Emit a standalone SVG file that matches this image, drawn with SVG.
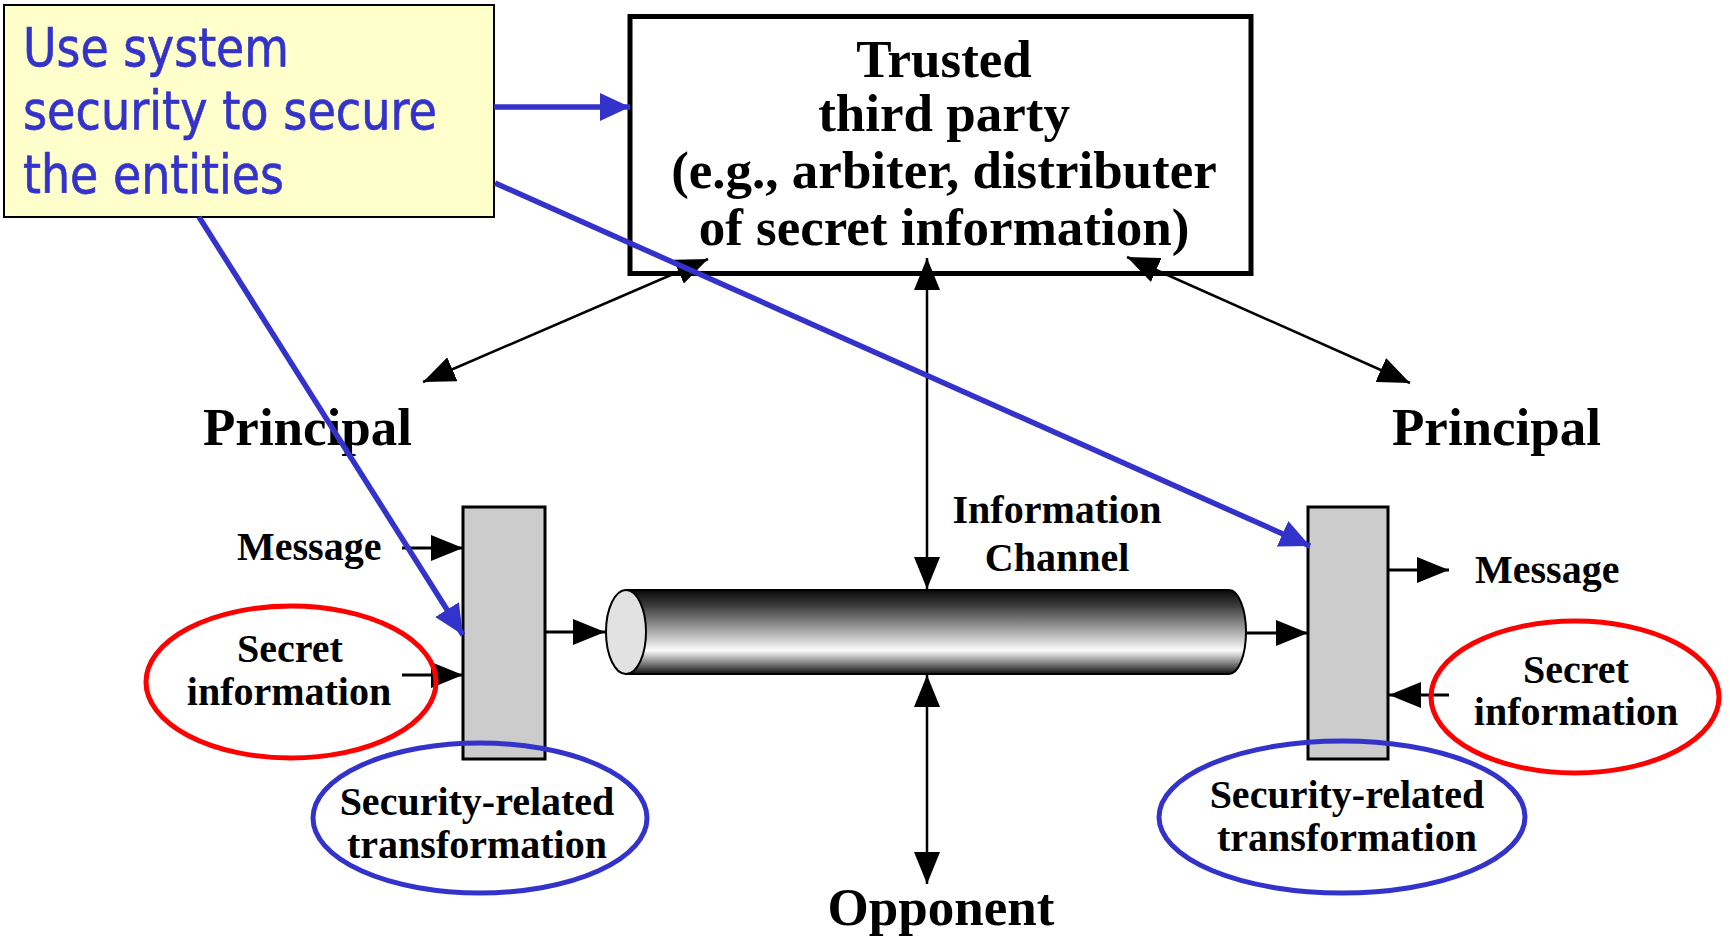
<svg xmlns="http://www.w3.org/2000/svg" width="1730" height="944" viewBox="0 0 1730 944">
  <style>
    .lbl { font-family: "Liberation Serif", "Times New Roman", serif; font-weight: bold; fill: #000; }
    .big { font-size: 53px; }
    .small { font-size: 40px; }
    .note { font-family: "DejaVu Sans", Verdana, sans-serif; font-size: 53px; fill: #3333cc; stroke: #3333cc; stroke-width: 0.7; }
    .wire { stroke: #000; stroke-width: 3; fill: none; }
    .wire-thin { stroke: #000; stroke-width: 2.5; fill: none; }
    .link { stroke: #3333cc; stroke-width: 5.5; fill: none; }
    .tbox { fill: #cccccc; stroke: #000; stroke-width: 3; }
    .ring-red { fill: none; stroke: #ff0000; stroke-width: 5; }
    .ring-blue { fill: none; stroke: #3333cc; stroke-width: 5; }
  </style>
  <defs>
    <marker id="ah" viewBox="0 0 32 26" refX="32" refY="13" markerWidth="32" markerHeight="26" markerUnits="userSpaceOnUse" orient="auto-start-reverse">
      <path d="M0,0 L32,13 L0,26 Z" fill="#000"/>
    </marker>
    <marker id="bh" viewBox="0 0 30 28" refX="30" refY="14" markerWidth="30" markerHeight="28" markerUnits="userSpaceOnUse" orient="auto">
      <path d="M0,0 L30,14 L0,28 Z" fill="#3333cc"/>
    </marker>
    <linearGradient id="pipe" x1="0" y1="0" x2="0" y2="1">
      <stop offset="0" stop-color="#080808"/>
      <stop offset="0.18" stop-color="#3a3a3a"/>
      <stop offset="0.45" stop-color="#9a9a9a"/>
      <stop offset="0.72" stop-color="#fbfbfb"/>
      <stop offset="0.86" stop-color="#8a8a8a"/>
      <stop offset="1" stop-color="#111"/>
    </linearGradient>
  </defs>

  <rect width="1730" height="944" fill="#fff"/>

  <!-- trusted third party -->
  <g id="ttp">
    <rect x="630" y="16.5" width="621" height="257" fill="#fff" stroke="#000" stroke-width="5"/>
    <text class="lbl big" x="944" y="77" text-anchor="middle">Trusted</text>
    <text class="lbl big" x="944" y="131" text-anchor="middle">third party</text>
    <text class="lbl big" x="944" y="188" text-anchor="middle">(e.g., arbiter, distributer</text>
    <text class="lbl big" x="944" y="245" text-anchor="middle">of secret information)</text>
  </g>

  <!-- principals -->
  <g id="principal-left">
    <text class="lbl big" x="203" y="445">Principal</text>
  </g>
  <g id="principal-right">
    <text class="lbl big" x="1392" y="445">Principal</text>
  </g>

  <!-- transformation blocks -->
  <g id="xform-left">
    <rect class="tbox" x="463" y="507" width="82" height="252"/>
  </g>
  <g id="xform-right">
    <rect class="tbox" x="1308" y="507" width="80" height="252"/>
  </g>

  <!-- information channel pipe -->
  <g id="channel">
    <path d="M626,590 H1229 A17,42 0 0 1 1229,674 H626 Z" fill="url(#pipe)" stroke="#000" stroke-width="2"/>
    <ellipse cx="626" cy="632" rx="20" ry="42" fill="#e2e2e2" stroke="#000" stroke-width="2"/>
    <text class="lbl small" x="1057" y="523" text-anchor="middle">Information</text>
    <text class="lbl small" x="1057" y="571" text-anchor="middle">Channel</text>
  </g>

  <g id="opponent">
    <text class="lbl big" x="941" y="925" text-anchor="middle">Opponent</text>
  </g>

  <!-- message / secret inputs and outputs -->
  <g id="msg-left">
    <text class="lbl small" x="237" y="560">Message</text>
  </g>
  <g id="msg-right">
    <text class="lbl small" x="1475" y="583">Message</text>
  </g>

  <!-- black connectors -->
  <g id="connectors">
    <line class="wire-thin" x1="708" y1="259" x2="423" y2="382" marker-start="url(#ah)" marker-end="url(#ah)"/>
    <line class="wire-thin" x1="1127" y1="257" x2="1410" y2="383" marker-start="url(#ah)" marker-end="url(#ah)"/>
    <line class="wire-thin" x1="927" y1="258" x2="927" y2="589" marker-start="url(#ah)" marker-end="url(#ah)"/>
    <line class="wire-thin" x1="927" y1="675" x2="927" y2="884" marker-start="url(#ah)" marker-end="url(#ah)"/>
    <line class="wire" x1="402" y1="548" x2="463" y2="548" marker-end="url(#ah)"/>
    <line class="wire" x1="402" y1="675" x2="463" y2="675" marker-end="url(#ah)"/>
    <line class="wire" x1="546" y1="632" x2="605" y2="632" marker-end="url(#ah)"/>
    <line class="wire" x1="1246" y1="633" x2="1308" y2="633" marker-end="url(#ah)"/>
    <line class="wire" x1="1389" y1="570" x2="1449" y2="570" marker-end="url(#ah)"/>
    <line class="wire" x1="1449" y1="695" x2="1389" y2="695" marker-end="url(#ah)"/>
  </g>

  <!-- secret information rings -->
  <g id="secret-left">
    <ellipse class="ring-red" cx="291" cy="682" rx="145" ry="76"/>
    <text class="lbl small" x="290" y="662" text-anchor="middle">Secret</text>
    <text class="lbl small" x="289" y="705" text-anchor="middle">information</text>
  </g>
  <g id="secret-right">
    <ellipse class="ring-red" cx="1575" cy="697" rx="144" ry="76"/>
    <text class="lbl small" x="1576" y="683" text-anchor="middle">Secret</text>
    <text class="lbl small" x="1576" y="725" text-anchor="middle">information</text>
  </g>

  <!-- security-related transformation rings -->
  <g id="srt-left">
    <ellipse class="ring-blue" cx="480" cy="818" rx="167" ry="75"/>
    <text class="lbl small" x="477" y="815" text-anchor="middle">Security-related</text>
    <text class="lbl small" x="477" y="858" text-anchor="middle">transformation</text>
  </g>
  <g id="srt-right">
    <ellipse class="ring-blue" cx="1342" cy="817" rx="183" ry="76"/>
    <text class="lbl small" x="1347" y="808" text-anchor="middle">Security-related</text>
    <text class="lbl small" x="1347" y="851" text-anchor="middle">transformation</text>
  </g>

  <!-- callout note -->
  <g id="note">
    <rect x="4" y="5" width="490" height="212" fill="#ffffcc" stroke="#000" stroke-width="2"/>
    <text class="note" x="23" y="66" textLength="266" lengthAdjust="spacingAndGlyphs">Use system</text>
    <text class="note" x="23" y="129" textLength="414" lengthAdjust="spacingAndGlyphs">security to secure</text>
    <text class="note" x="23" y="193" textLength="261" lengthAdjust="spacingAndGlyphs">the entities</text>
  </g>

  <!-- callout pointers -->
  <g id="note-links">
    <line class="link" x1="494" y1="107" x2="630" y2="107" marker-end="url(#bh)"/>
    <line class="link" x1="495" y1="183" x2="1310" y2="546" marker-end="url(#bh)"/>
    <line class="link" x1="199" y1="217" x2="463" y2="635" marker-end="url(#bh)"/>
  </g>
</svg>
